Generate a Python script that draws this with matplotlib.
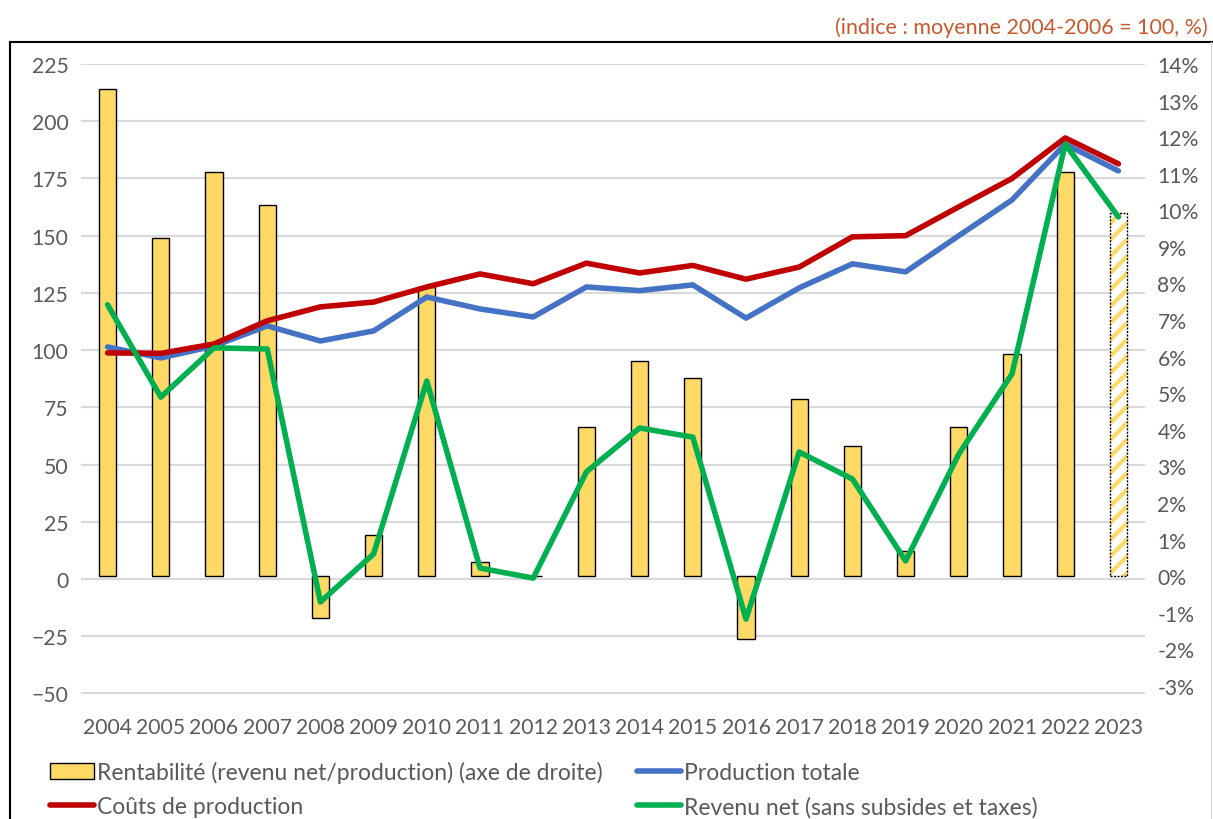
import matplotlib
matplotlib.use("Agg")
import matplotlib.pyplot as plt
from matplotlib.lines import Line2D
from matplotlib.patches import Rectangle
from matplotlib.ticker import FuncFormatter

# --- data ---
years = ["2004", "2005", "2006", "2007", "2008", "2009", "2010", "2011", "2012", "2013",
         "2014", "2015", "2016", "2017", "2018", "2019", "2020", "2021", "2022", "2023"]
production = [101.4, 96.6, 101.8, 110.6, 104.0, 108.4, 123.2, 118.0, 114.5, 127.6,
              126.0, 128.5, 114.0, 127.2, 137.7, 134.2, 150.0, 165.6, 190.0, 178.3]
couts = [98.8, 98.6, 102.7, 112.8, 118.9, 121.0, 127.6, 133.3, 129.0, 138.0,
         133.7, 137.0, 131.0, 136.3, 149.5, 150.0, 162.6, 175.0, 192.7, 181.4]
revenu = [119.8, 79.5, 101.0, 100.5, -10.0, 11.0, 86.5, 4.8, 0.4, 46.8,
          66.0, 62.0, -17.5, 55.5, 43.7, 7.9, 54.6, 89.6, 190.0, 158.2]
rentabilite = [13.31, 9.23, 11.04, 10.14, -1.15, 1.12, 7.90, 0.38, 0.0, 4.07,
               5.87, 5.41, -1.72, 4.84, 3.55, 0.68, 4.07, 6.07, 11.04, 9.92]
left_ticks = [-50, -25, 0, 25, 50, 75, 100, 125, 150, 175, 200, 225]
right_ticks = [-3, -2, -1, 0, 1, 2, 3, 4, 5, 6, 7, 8, 9, 10, 11, 12, 13, 14]

title = "(indice : moyenne 2004-2006 = 100, %)"
lbl_rent = "Rentabilité (revenu net/production) (axe de droite)"
lbl_prod = "Production totale"
lbl_couts = "Coûts de production"
lbl_rev = "Revenu net (sans subsides et taxes)"

BLUE = "#4472C4"
RED = "#C00000"
GREEN = "#00B050"
YELLOW = "#FFD966"
GREY = "#595959"
LW = 4.0

plt.rcParams["font.family"] = ["Lato", "DejaVu Sans"]
plt.rcParams["hatch.linewidth"] = 3

fig = plt.figure(figsize=(12.13, 8.2), dpi=100)
W, H = 1213, 820
ax = fig.add_axes([81 / W, 1 - 694.5 / H, (1145 - 81) / W, (694.5 - 65) / H])

# grid + left axis (index)
ax.set_ylim(-50, 225)
ax.set_xlim(-0.5, len(years) - 0.5)
ax.set_yticks(left_ticks)
ax.yaxis.grid(True, color="#D9D9D9", linewidth=1.5)
ax.set_axisbelow(True)
ax.set_xticks(range(len(years)))
ax.set_xticklabels(years)
ax.tick_params(axis="both", length=0, labelsize=15.2, labelcolor=GREY)
ax.tick_params(axis="x", pad=17)
ax.tick_params(axis="y", pad=9)
for s in ax.spines.values():
    s.set_visible(False)

# bars on the right axis (%)
axb = ax.twinx()
axb.set_ylim(-3.21, 14.0)
axb.set_yticks(right_ticks)
axb.yaxis.set_major_formatter(FuncFormatter(lambda v, p: f"{v:.0f}%"))
axb.tick_params(axis="y", length=0, labelsize=15.2, labelcolor=GREY, pad=9)
for s in axb.spines.values():
    s.set_visible(False)

x = list(range(len(years)))
bw = 0.32
axb.bar(x[:-1], rentabilite[:-1], width=bw, color=YELLOW, edgecolor="black", linewidth=1)
# last year: estimate, hatched with dashed outline
axb.bar(x[-1:], rentabilite[-1:], width=bw, color="white", edgecolor=YELLOW,
        hatch="//", linewidth=0)
axb.bar(x[-1:], rentabilite[-1:], width=bw, facecolor="none", edgecolor="black",
        linewidth=1, linestyle=(0, (1.5, 1)))

# lines on top, on the left scale
axl = ax.twinx()
axl.set_ylim(ax.get_ylim())
axl.set_yticks([])
for s in axl.spines.values():
    s.set_visible(False)
kw = dict(linewidth=LW, solid_joinstyle="round", solid_capstyle="round")
axl.plot(x, production, color=BLUE, **kw)
axl.plot(x, couts, color=RED, **kw)
axl.plot(x, revenu, color=GREEN, **kw)

# legend
h_rent = Rectangle((0, 0), 1, 1, facecolor=YELLOW, edgecolor="black", linewidth=1)
h_prod = Line2D([], [], color=BLUE, linewidth=LW, solid_capstyle="round")
h_couts = Line2D([], [], color=RED, linewidth=LW, solid_capstyle="round")
h_rev = Line2D([], [], color=GREEN, linewidth=LW, solid_capstyle="round")
fig.legend([h_rent, h_couts, h_prod, h_rev], [lbl_rent, lbl_couts, lbl_prod, lbl_rev],
           ncol=2, loc="upper left", bbox_to_anchor=(50 / W, 1 - 762 / H),
           frameon=False, fontsize=16.5, labelcolor=GREY, handlelength=1.9,
           handleheight=0.7, handletextpad=0.15, columnspacing=1.5, labelspacing=0.55,
           borderpad=0, borderaxespad=0)

# title (units note)
fig.text(1208 / W, 1 - 28 / H, title, ha="right", va="center", color="#C65A2E", fontsize=15.5)

# chart frame
fig.add_artist(Line2D([10 / W, 10 / W], [0, 1 - 43 / H], color="black", linewidth=1.5))
fig.add_artist(Line2D([10 / W, 1], [1 - 43 / H, 1 - 43 / H], color="black", linewidth=1.5))
fig.add_artist(Line2D([1211 / W, 1211 / W], [0, 1 - 43 / H], color="#D9D9D9", linewidth=1))

fig.savefig("out.png", dpi=100)
